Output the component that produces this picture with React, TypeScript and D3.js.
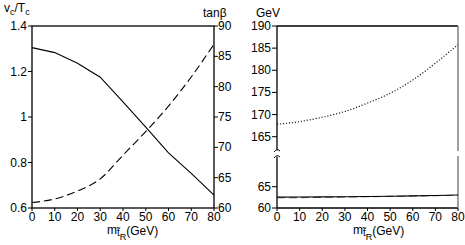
import React from 'react';
import * as d3 from 'd3';

// masses of the right-handed stop, GeV
const mStop = [0, 10, 20, 30, 40, 50, 60, 70, 80];
const vcOverTc = [1.305, 1.283, 1.236, 1.175, 1.066, 0.955, 0.842, 0.752, 0.657];
const tanBeta = [60.9, 61.5, 62.8, 64.8, 68.7, 72.6, 76.8, 81.6, 87.0];

const mStopR = [0, 10, 20, 30, 40, 50, 60, 70, 80];
const upperGeV = [167.8, 168.4, 169.4, 170.7, 172.6, 174.8, 177.8, 181.6, 185.8];
const lowSolid = [62.55, 62.57, 62.6, 62.65, 62.7, 62.77, 62.85, 62.95, 63.05];
const lowDashed = [62.4, 62.44, 62.5, 62.57, 62.65, 62.72, 62.8, 62.9, 63.0];

const xTicks = [0, 10, 20, 30, 40, 50, 60, 70, 80];
const leftTicks = [0.6, 0.8, 1, 1.2, 1.4];
const rightTicks = [60, 65, 70, 75, 80, 85, 90];
const upperTicks = [165, 170, 175, 180, 185, 190];
const lowerTicks = [60, 65];

const FONT = 'Liberation Sans, Arial, Helvetica, sans-serif';
const FS = 12;

const top = 26, bottom = 208;
const breakTop = 150, breakBot = 157;

function XLabel({x}: {x: number}) {
  return (
    <text x={x} y={234} fontSize={FS} fontFamily={FONT}>
      m
      <tspan fontSize={10} dy={2}>t̃</tspan>
      <tspan fontSize={9} dy={4}>R</tspan>
      <tspan fontSize={FS} dy={-5}>(GeV)</tspan>
    </text>
  );
}

export default function App() {
  // left panel
  const xL = d3.scaleLinear().domain([0, 80]).range([32, 214]);
  const yL = d3.scaleLinear().domain([0.6, 1.4]).range([bottom, top]);
  const yR = d3.scaleLinear().domain([60, 90]).range([bottom, top]);
  const solidL = d3.line<number>().x((d, i) => xL(mStop[i])).y(d => yL(d));
  const dashL = d3.line<number>().x((d, i) => xL(mStop[i])).y(d => yR(d)).curve(d3.curveMonotoneX);

  // right panel, broken axis
  const xR = d3.scaleLinear().domain([0, 80]).range([277, 458]);
  const yUp = d3.scaleLinear().domain([165, 190]).range([136.7, top]);
  const yLo = d3.scaleLinear().domain([60, 65]).range([bottom, 186.7]);
  const dotR = d3.line<number>().x((d, i) => xR(mStopR[i])).y(d => yUp(d)).curve(d3.curveMonotoneX);
  const loLine = d3.line<number>().x((d, i) => xR(mStopR[i])).y(d => yLo(d));

  const [x0, x1] = xR.range();

  return (
    <svg width={465} height={245} style={{position: 'absolute', left: 0, top: 0, background: '#fff'}}>
      {/* left panel */}
      <g fontFamily={FONT} fontSize={FS}>
        <rect x={xL(0)} y={top} width={xL(80) - xL(0)} height={bottom - top} fill="none" stroke="#000" strokeWidth={1.3} />
        {leftTicks.map(t => (
          <g key={'l' + t}>
            <line x1={xL(0) - 4} x2={xL(0)} y1={yL(t)} y2={yL(t)} stroke="#000" />
            <text x={xL(0) - 5} y={yL(t) + 4} textAnchor="end">{t === 1 ? '1' : d3.format('.1f')(t)}</text>
          </g>
        ))}
        {rightTicks.map(t => (
          <g key={'r' + t}>
            <line x1={xL(80)} x2={xL(80) + 4} y1={yR(t)} y2={yR(t)} stroke="#000" />
            <text x={xL(80) + 4} y={yR(t) + 4}>{t}</text>
          </g>
        ))}
        {xTicks.map(t => (
          <g key={'x' + t}>
            <line x1={xL(t)} x2={xL(t)} y1={bottom} y2={bottom + 3} stroke="#000" />
            <text x={xL(t)} y={221} textAnchor="middle">{t}</text>
          </g>
        ))}
        <path d={solidL(vcOverTc) || ''} fill="none" stroke="#000" strokeWidth={1.1} />
        <path d={dashL(tanBeta) || ''} fill="none" stroke="#000" strokeWidth={1.1} strokeDasharray="8,4" />
        <text x={4} y={12}>v<tspan fontSize={9} dy={3}>c</tspan><tspan dy={-3}>/T</tspan><tspan fontSize={9} dy={3}>c</tspan></text>
        <text x={203} y={17}>tanβ</text>
        <XLabel x={107} />
      </g>

      {/* right panel */}
      <g fontFamily={FONT} fontSize={FS}>
        <line x1={x0} x2={x1} y1={top} y2={top} stroke="#000" strokeWidth={1.3} />
        <line x1={x0} x2={x1} y1={bottom} y2={bottom} stroke="#000" strokeWidth={1.3} />
        <line x1={x0} x2={x0} y1={top} y2={breakTop} stroke="#000" strokeWidth={1.3} />
        <line x1={x0} x2={x0} y1={breakBot} y2={bottom} stroke="#000" strokeWidth={1.3} />
        <path d={`M${x0 - 3},${breakTop + 2} q3,-4 6,-1`} fill="none" stroke="#000" />
        <path d={`M${x0 - 3},${breakBot + 1} q3,-4 6,-1`} fill="none" stroke="#000" />
        <line x1={x1} x2={x1} y1={top} y2={breakTop + 1} stroke="#888" strokeWidth={1.6} />
        <line x1={x1} x2={x1} y1={breakBot - 1} y2={bottom} stroke="#888" strokeWidth={1.6} />
        {upperTicks.map(t => (
          <g key={'u' + t}>
            <line x1={x0 - 5} x2={x0} y1={yUp(t)} y2={yUp(t)} stroke="#000" />
            <text x={x0 - 6} y={yUp(t) + 4} textAnchor="end">{t}</text>
          </g>
        ))}
        {lowerTicks.map(t => (
          <g key={'lo' + t}>
            <line x1={x0 - 5} x2={x0} y1={yLo(t)} y2={yLo(t)} stroke="#000" />
            <text x={x0 - 6} y={yLo(t) + 4} textAnchor="end">{t}</text>
          </g>
        ))}
        {xTicks.map(t => (
          <g key={'xr' + t}>
            <line x1={xR(t)} x2={xR(t)} y1={bottom} y2={bottom + 3} stroke="#000" />
            <text x={xR(t)} y={221} textAnchor="middle">{t}</text>
          </g>
        ))}
        <path d={dotR(upperGeV) || ''} fill="none" stroke="#222" strokeWidth={1.2} strokeDasharray="1.2,1.8" />
        <path d={loLine(lowDashed) || ''} fill="none" stroke="#666" strokeWidth={1.1} strokeDasharray="8,4" />
        <path d={loLine(lowSolid) || ''} fill="none" stroke="#000" strokeWidth={1.1} />
        <text x={256} y={17}>GeV</text>
        <XLabel x={353} />
      </g>
    </svg>
  );
}
